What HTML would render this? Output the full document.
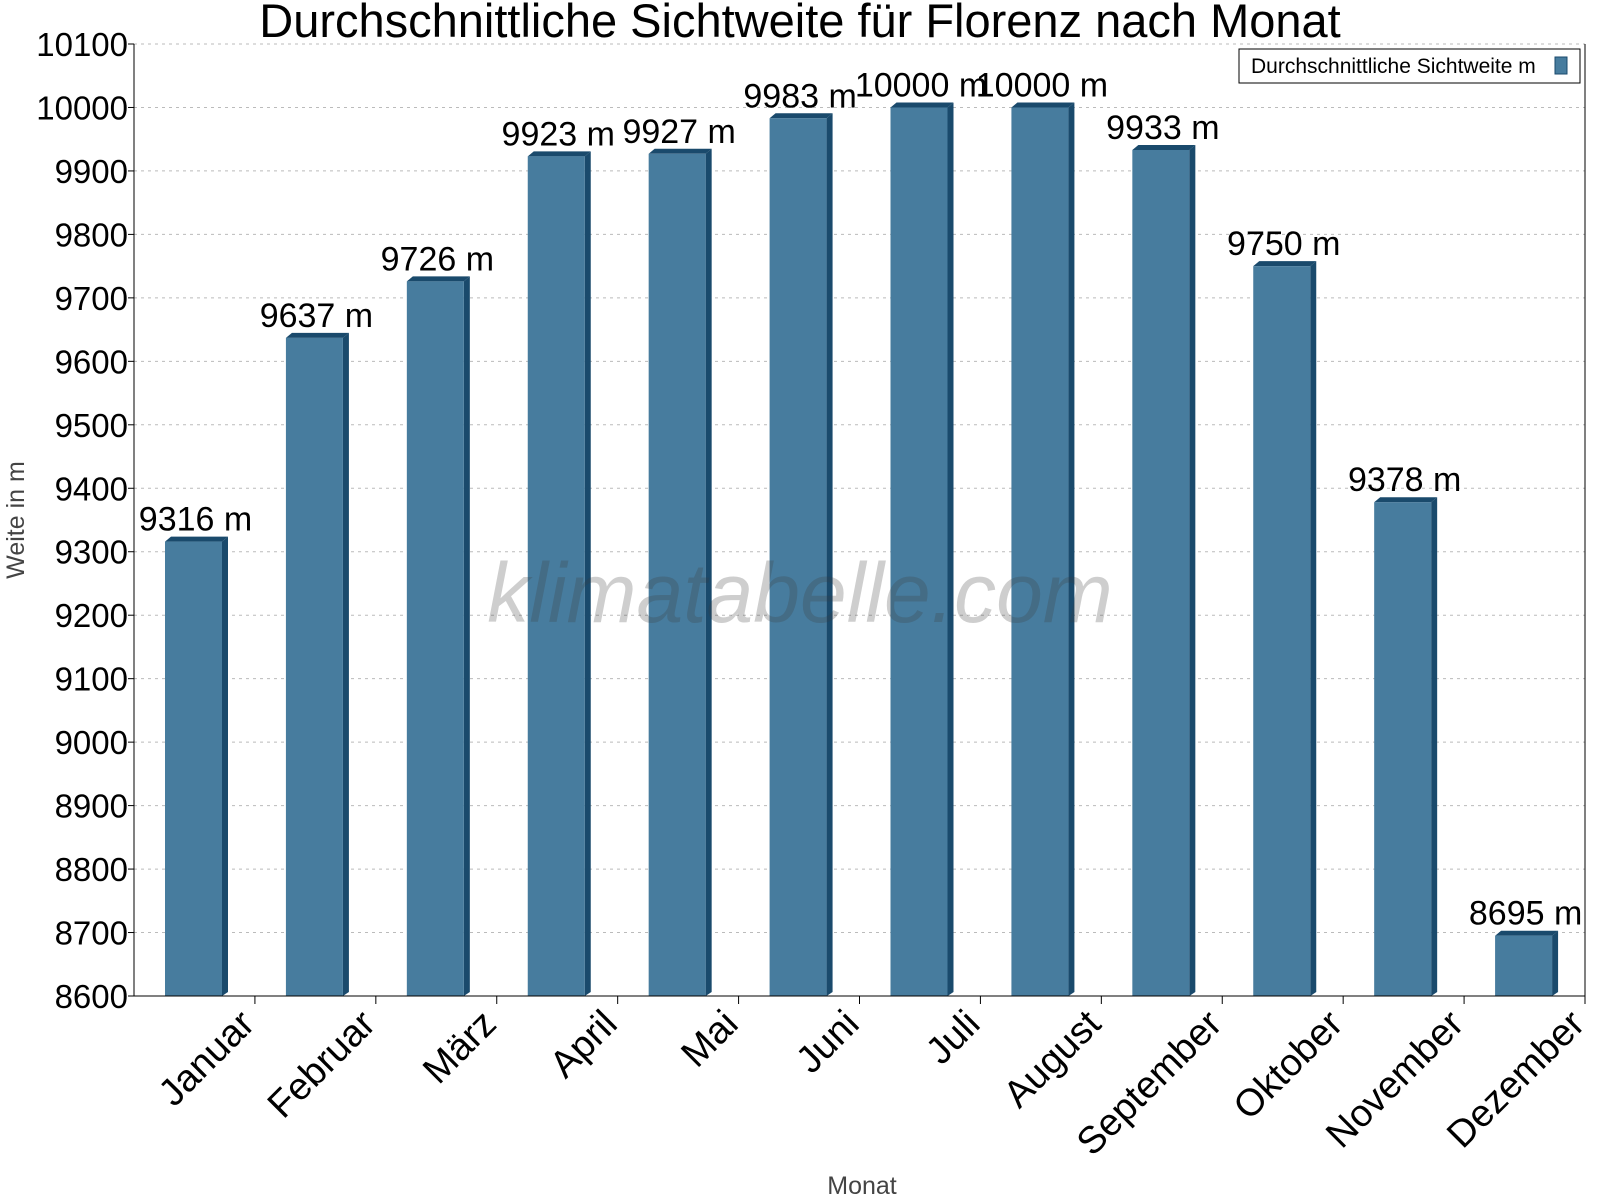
<!DOCTYPE html>
<html><head><meta charset="utf-8"><style>body{margin:0;background:#fff}svg{display:block}text{font-family:"Liberation Sans",Arial,sans-serif}</style></head>
<body>
<svg id="c" width="1600" height="1200" xmlns="http://www.w3.org/2000/svg"></svg>
<script>
const categories=["Januar","Februar","März","April","Mai","Juni","Juli","August","September","Oktober","November","Dezember"];
const values=[9316,9637,9726,9923,9927,9983,10000,10000,9933,9750,9378,8695];
const yTicks=[8600,8700,8800,8900,9000,9100,9200,9300,9400,9500,9600,9700,9800,9900,10000,10100];
const L=134,R=1585,T=44,B=996,yMin=8600,yMax=10100;
const svg=document.getElementById('c');const NS='http://www.w3.org/2000/svg';
function y(v){return B-(v-yMin)/(yMax-yMin)*(B-T);}
const slot=(R-L)/categories.length;
function x(i){return L+i*slot;}
function mk(t,a,txt,name,p){const e=document.createElementNS(NS,t);for(const k in a)e.setAttribute(k,a[k]);if(txt!=null)e.textContent=txt;


(p||svg).appendChild(e);return e;}
mk('text',{x:800,y:37,'font-size':47,'text-anchor':'middle',fill:'#000'},'Durchschnittliche Sichtweite für Florenz nach Monat','chart-title');
yTicks.forEach(v=>{if(v>yMin)mk('line',{x1:L,x2:R,y1:y(v),y2:y(v),stroke:'#bbb','stroke-dasharray':'3,4'},null,'gridline');
mk('line',{x1:L-6,x2:L,y1:y(v),y2:y(v),stroke:'#000'},null,'y-tick');
mk('text',{x:L-6,y:y(v)+12,'font-size':33,'text-anchor':'end'},String(v),'y-tick-label');});
mk('text',{x:0,y:0,'font-size':25,fill:'#444','text-anchor':'middle',transform:'translate(24,520) rotate(-90)'},'Weite in m','y-axis-title');
mk('text',{x:862,y:1194,'font-size':25,fill:'#444','text-anchor':'middle'},'Monat','x-axis-title');
values.forEach((v,i)=>{const bx=x(i)+31,bw=57,d=6,top=y(v);
mk('polygon',{points:`${bx},${top} ${bx+d},${top-5} ${bx+bw+d},${top-5} ${bx+bw},${top}`,fill:'#1a4a6c'},null,'bar-top');
mk('polygon',{points:`${bx+bw},${top} ${bx+bw+d},${top-5} ${bx+bw+d},${B-4} ${bx+bw},${B}`,fill:'#1a4a6c'},null,'bar-side');
mk('rect',{x:bx,y:top,width:bw,height:B-top,fill:'#477c9e'},null,'bar-'+categories[i].toLowerCase());
mk('text',{x:bx+bw/2+2,y:top-11,'font-size':34,'text-anchor':'middle'},v+' m','value-label');
mk('line',{x1:x(i+1),x2:x(i+1),y1:B,y2:B+8,stroke:'#000'},null,'x-tick');
const cx=x(i)+slot/2+62;
mk('text',{x:0,y:0,'font-size':38,'text-anchor':'end',transform:`translate(${cx},${B+30}) rotate(-45)`},categories[i],'x-tick-label');});
mk('text',{x:800,y:622,'font-size':84,'font-style':'italic',fill:'rgba(60,60,60,0.25)','text-anchor':'middle'},'klimatabelle.com','watermark');
mk('line',{x1:L,x2:L,y1:T,y2:B,stroke:'#000'},null,'y-axis');
mk('line',{x1:R,x2:R,y1:T,y2:B,stroke:'#000'},null,'right-axis');
mk('line',{x1:L,x2:R,y1:B,y2:B,stroke:'#000'},null,'x-axis');
const g=mk('g',{},null,'legend');
mk('rect',{x:1239,y:49,width:341,height:34,fill:'#fff',stroke:'#000'},null,'legend-box',g);
mk('text',{x:1251,y:73,'font-size':21},'Durchschnittliche Sichtweite m','legend-label',g);
mk('rect',{x:1555,y:57,width:12,height:17,fill:'#477c9e',stroke:'#1a4a6c'},null,'legend-swatch',g);
</script>
</body></html>
